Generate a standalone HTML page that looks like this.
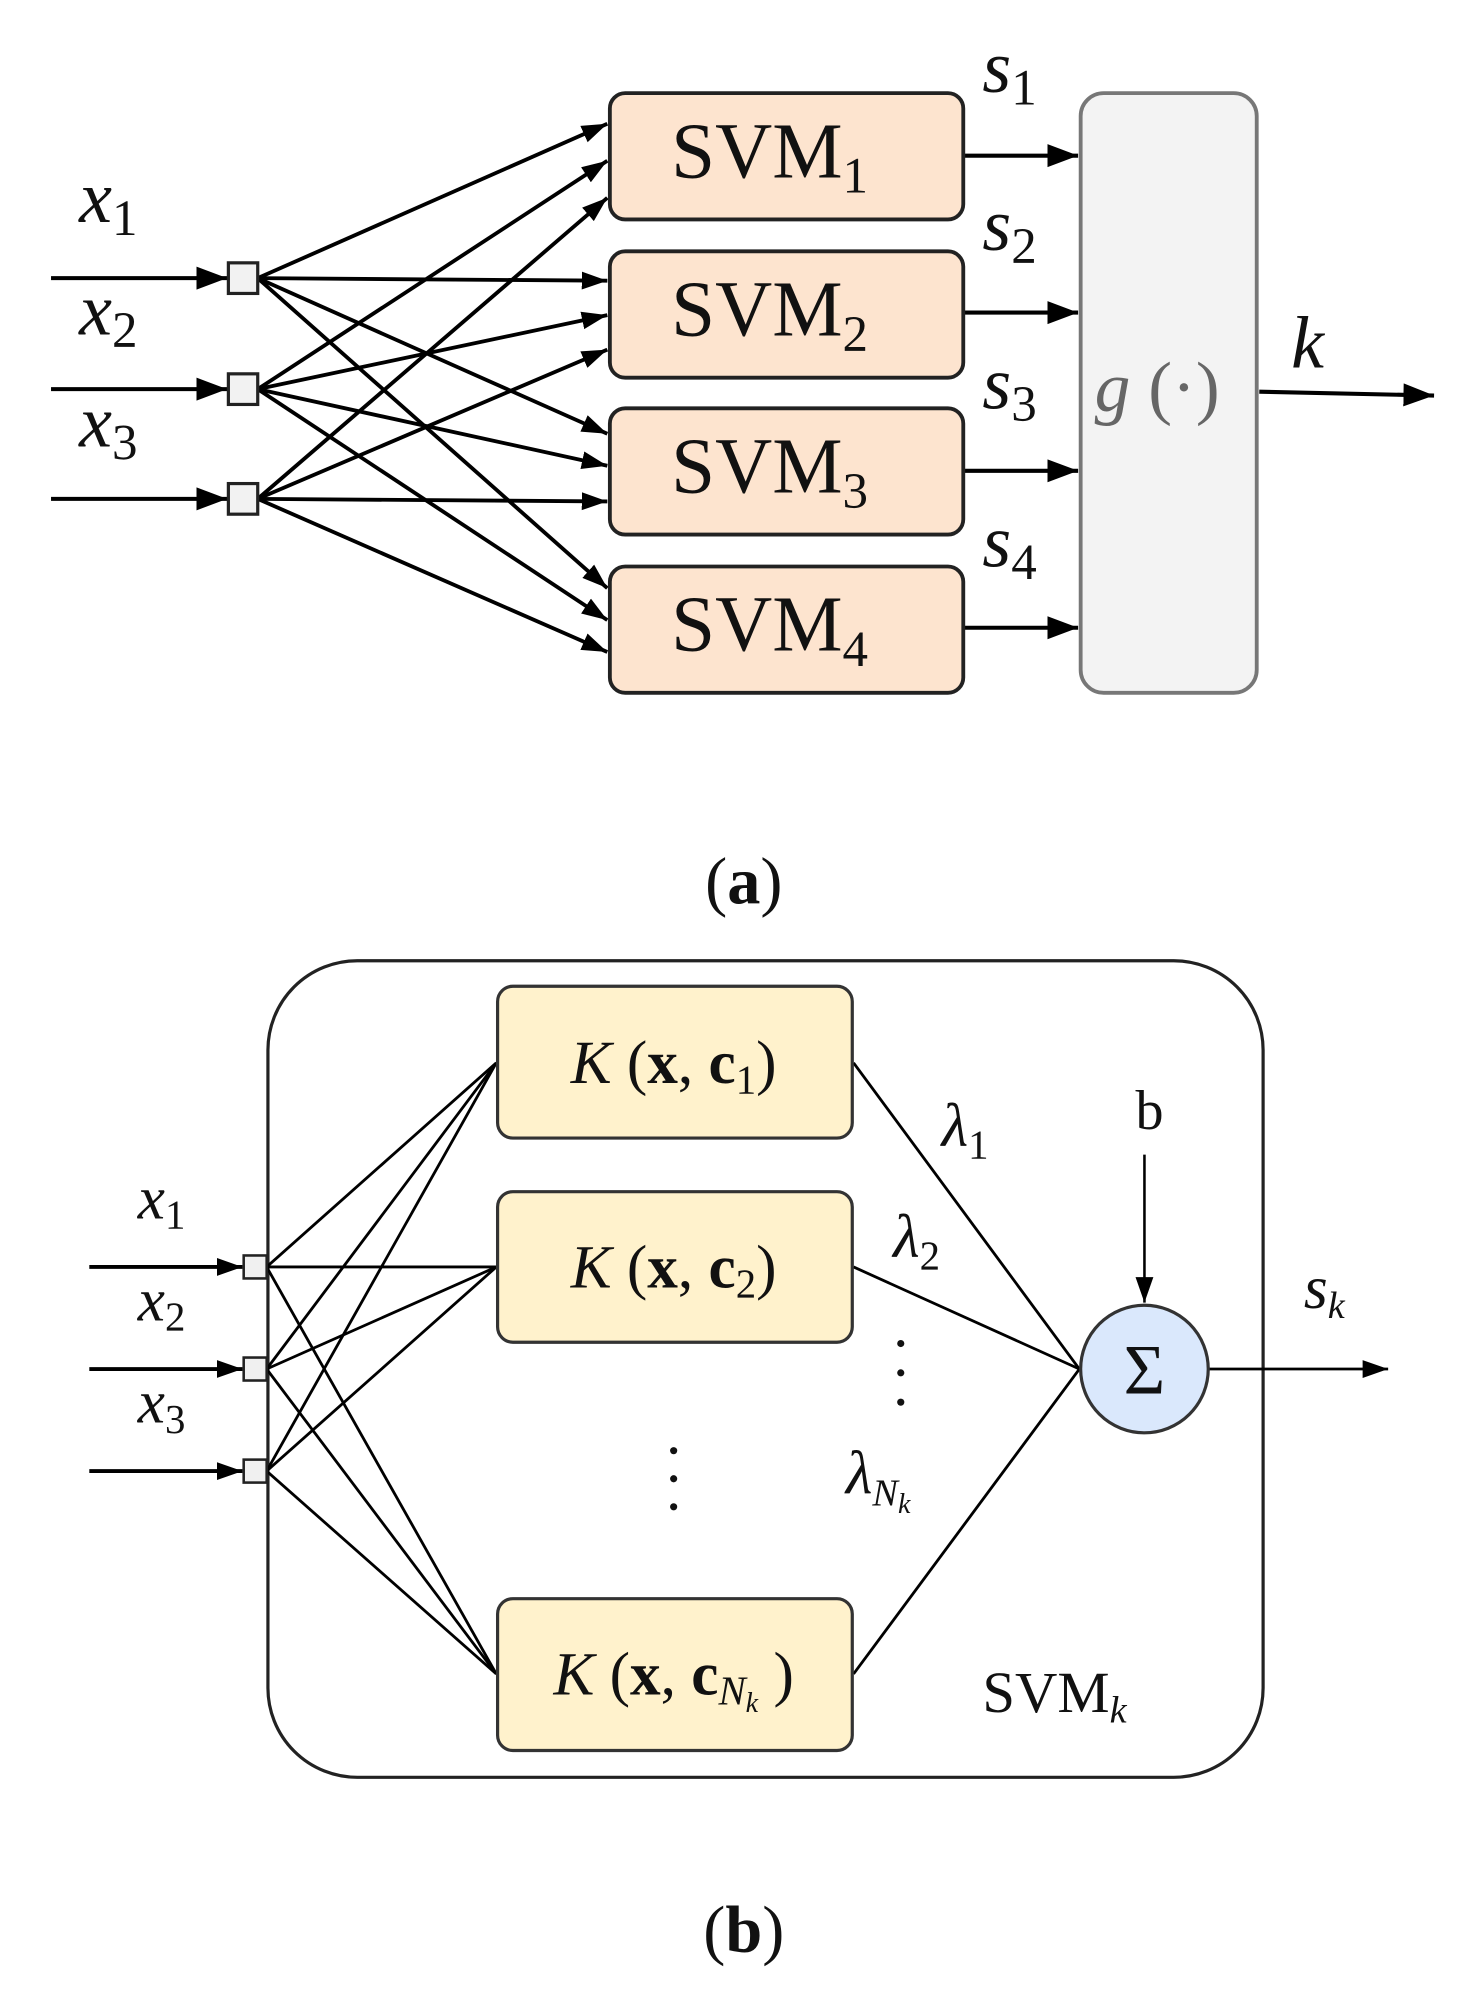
<!DOCTYPE html>
<html><head><meta charset="utf-8"><style>
html,body{margin:0;padding:0;background:#fff;}
svg{display:block;}
text{font-family:"Liberation Serif",serif;fill:#111;}
.i{font-style:italic;}
</style></head><body>
<svg width="1480" height="1996" viewBox="0 0 1160 1564.4" preserveAspectRatio="none" xmlns="http://www.w3.org/2000/svg">
<defs>
<marker id="a" markerUnits="userSpaceOnUse" markerWidth="26" markerHeight="20" refX="24" refY="10" orient="auto"><path d="M0,1 L24,10 L0,19 Z" fill="#000"/></marker>
<marker id="b" markerUnits="userSpaceOnUse" markerWidth="22" markerHeight="16" refX="20" refY="8" orient="auto"><path d="M0,1 L20,8 L0,15 Z" fill="#000"/></marker>
</defs>
<!-- (a) -->
<g stroke="#000" stroke-width="3.2" fill="none">
<line x1="40" y1="218" x2="178" y2="218" marker-end="url(#a)"/>
<line x1="40" y1="305" x2="178" y2="305" marker-end="url(#a)"/>
<line x1="40" y1="391" x2="178" y2="391" marker-end="url(#a)"/>
<g stroke-width="3" marker-end="url(#b)">
<line x1="202" y1="218" x2="476" y2="97"/>
<line x1="202" y1="218" x2="476" y2="220"/>
<line x1="202" y1="218" x2="476" y2="340"/>
<line x1="202" y1="218" x2="476" y2="461"/>
<line x1="202" y1="305" x2="476" y2="126"/>
<line x1="202" y1="305" x2="476" y2="247"/>
<line x1="202" y1="305" x2="476" y2="365"/>
<line x1="202" y1="305" x2="476" y2="486"/>
<line x1="202" y1="391" x2="476" y2="155"/>
<line x1="202" y1="391" x2="476" y2="274"/>
<line x1="202" y1="391" x2="476" y2="393"/>
<line x1="202" y1="391" x2="476" y2="511"/>
</g>
<line x1="755" y1="122" x2="845" y2="122" marker-end="url(#a)"/>
<line x1="755" y1="245" x2="845" y2="245" marker-end="url(#a)"/>
<line x1="755" y1="369" x2="845" y2="369" marker-end="url(#a)"/>
<line x1="755" y1="492" x2="845" y2="492" marker-end="url(#a)"/>
<line x1="987" y1="307" x2="1124" y2="310" marker-end="url(#a)"/>
</g>
<g fill="#f2f2f2" stroke="#222" stroke-width="2.5">
<rect x="179" y="206" width="23" height="24"/>
<rect x="179" y="293" width="23" height="24"/>
<rect x="179" y="379" width="23" height="24"/>
</g>
<g fill="#fde4cf" stroke="#222" stroke-width="3">
<rect x="478" y="73" width="277" height="99" rx="12"/>
<rect x="478" y="197" width="277" height="99" rx="12"/>
<rect x="478" y="320" width="277" height="99" rx="12"/>
<rect x="478" y="444" width="277" height="99" rx="12"/>
</g>
<rect x="847" y="73" width="138" height="470" rx="18" fill="#f3f3f3" stroke="#777" stroke-width="3"/>
<g font-size="62">
<text x="526" y="139">SVM<tspan font-size="40" dy="12">1</tspan></text>
<text x="526" y="263">SVM<tspan font-size="40" dy="12">2</tspan></text>
<text x="526" y="386">SVM<tspan font-size="40" dy="12">3</tspan></text>
<text x="526" y="510">SVM<tspan font-size="40" dy="12">4</tspan></text>
</g>
<g font-size="58">
<text x="62" y="174" class="i">x<tspan font-size="40" dy="10" font-style="normal">1</tspan></text>
<text x="62" y="262" class="i">x<tspan font-size="40" dy="10" font-style="normal">2</tspan></text>
<text x="62" y="350" class="i">x<tspan font-size="40" dy="10" font-style="normal">3</tspan></text>
<text x="770" y="72" class="i">s<tspan font-size="40" dy="10" font-style="normal">1</tspan></text>
<text x="770" y="196" class="i">s<tspan font-size="40" dy="10" font-style="normal">2</tspan></text>
<text x="770" y="320" class="i">s<tspan font-size="40" dy="10" font-style="normal">3</tspan></text>
<text x="770" y="444" class="i">s<tspan font-size="40" dy="10" font-style="normal">4</tspan></text>
<text x="1012" y="288" class="i">k</text>
</g>
<text x="858" y="322" font-size="56" style="fill:#666"><tspan font-style="italic">g</tspan> (·)</text>
<text x="583" y="708" font-size="52" text-anchor="middle">(<tspan font-weight="bold">a</tspan>)</text>

<!-- (b) -->
<rect x="210" y="753" width="780" height="640" rx="70" fill="none" stroke="#222" stroke-width="2.5"/>
<g stroke="#000" stroke-width="2.2" fill="none">
<line x1="70" y1="993" x2="190" y2="993" stroke-width="3" marker-end="url(#b)"/>
<line x1="70" y1="1073" x2="190" y2="1073" stroke-width="3" marker-end="url(#b)"/>
<line x1="70" y1="1153" x2="190" y2="1153" stroke-width="3" marker-end="url(#b)"/>
<line x1="209" y1="993" x2="389" y2="833"/>
<line x1="209" y1="993" x2="389" y2="993"/>
<line x1="209" y1="993" x2="389" y2="1312"/>
<line x1="209" y1="1073" x2="389" y2="833"/>
<line x1="209" y1="1073" x2="389" y2="993"/>
<line x1="209" y1="1073" x2="389" y2="1312"/>
<line x1="209" y1="1153" x2="389" y2="833"/>
<line x1="209" y1="1153" x2="389" y2="993"/>
<line x1="209" y1="1153" x2="389" y2="1312"/>
<line x1="669" y1="833" x2="846" y2="1073"/>
<line x1="669" y1="993" x2="846" y2="1073"/>
<line x1="669" y1="1312" x2="846" y2="1073"/>
<line x1="897" y1="905" x2="897" y2="1021" stroke-width="2" marker-end="url(#b)"/>
<line x1="947" y1="1073" x2="1088" y2="1073" marker-end="url(#b)"/>
</g>
<g fill="#f0f0f0" stroke="#222" stroke-width="2">
<rect x="191" y="984" width="18" height="18"/>
<rect x="191" y="1064" width="18" height="18"/>
<rect x="191" y="1144" width="18" height="18"/>
</g>
<g fill="#fff2cc" stroke="#333" stroke-width="2.5">
<rect x="390" y="773" width="278" height="119" rx="12"/>
<rect x="390" y="934" width="278" height="118" rx="12"/>
<rect x="390" y="1253" width="278" height="119" rx="12"/>
</g>
<circle cx="897" cy="1073" r="50" fill="#dae8fc" stroke="#333" stroke-width="2.5"/>
<text x="897" y="1092" font-size="56" text-anchor="middle">Σ</text>
<g font-size="48">
<text x="528" y="849" text-anchor="middle"><tspan class="i">K</tspan> (<tspan font-weight="bold">x</tspan>, <tspan font-weight="bold">c</tspan><tspan font-size="32" dy="8">1</tspan><tspan dy="-8">)</tspan></text>
<text x="528" y="1009" text-anchor="middle"><tspan class="i">K</tspan> (<tspan font-weight="bold">x</tspan>, <tspan font-weight="bold">c</tspan><tspan font-size="32" dy="8">2</tspan><tspan dy="-8">)</tspan></text>
<text x="528" y="1328" text-anchor="middle"><tspan class="i">K</tspan> (<tspan font-weight="bold">x</tspan>, <tspan font-weight="bold">c</tspan><tspan font-size="32" dy="8" class="i">N</tspan><tspan font-size="22" dy="6" class="i">k</tspan><tspan dy="-14"> )</tspan></text>
<text x="108" y="955" class="i">x<tspan font-size="32" dy="8" font-style="normal">1</tspan></text>
<text x="108" y="1035" class="i">x<tspan font-size="32" dy="8" font-style="normal">2</tspan></text>
<text x="108" y="1115" class="i">x<tspan font-size="32" dy="8" font-style="normal">3</tspan></text>
<text x="1022" y="1025" class="i">s<tspan font-size="30" dy="8">k</tspan></text>
<text x="738" y="898" class="i">λ<tspan font-size="32" dy="10" font-style="normal">1</tspan></text>
<text x="700" y="985" class="i">λ<tspan font-size="32" dy="10" font-style="normal">2</tspan></text>
<text x="663" y="1170" class="i">λ<tspan font-size="30" dy="10">N</tspan><tspan font-size="22" dy="6">k</tspan></text>
<text x="890" y="885" font-size="44">b</text>
<text x="770" y="1342" font-size="46">SVM<tspan font-size="30" dy="8" class="i">k</tspan></text>
</g>
<g fill="#111">
<circle cx="706" cy="1053" r="2.8"/><circle cx="706" cy="1076" r="2.8"/><circle cx="706" cy="1099" r="2.8"/>
<circle cx="528" cy="1137" r="2.8"/><circle cx="528" cy="1159" r="2.8"/><circle cx="528" cy="1181" r="2.8"/>
</g>
<text x="583" y="1530" font-size="52" text-anchor="middle">(<tspan font-weight="bold">b</tspan>)</text>
</svg>
</body></html>
